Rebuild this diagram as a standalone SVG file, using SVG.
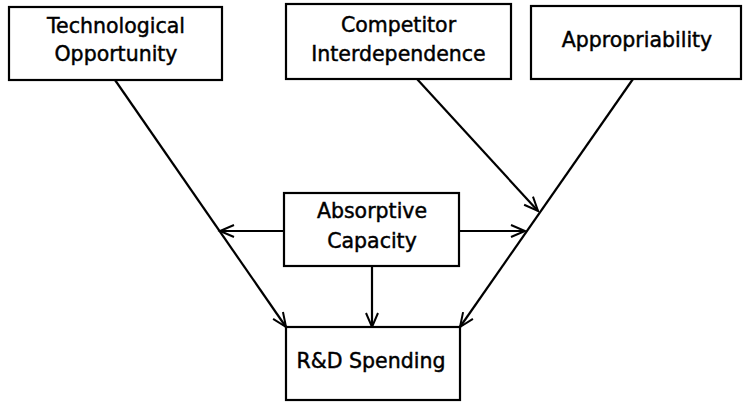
<svg xmlns="http://www.w3.org/2000/svg" width="745" height="402" viewBox="0 0 745 402">
<style>
.box{fill:#fff;stroke:#000;stroke-width:2.2}
.lbl{font-family:"DejaVu Sans","Liberation Sans",sans-serif;font-size:20.5px;fill:#000;stroke:#000;stroke-width:0.45;text-anchor:middle}
.edge{stroke:#000;stroke-width:2.2;fill:none;marker-end:url(#arr)}
</style>
<defs>
<marker id="arr" markerUnits="userSpaceOnUse" markerWidth="18" markerHeight="16" refX="15" refY="7" orient="auto" viewBox="0 0 18 14">
<path d="M1,1 L15,7 L1,13" fill="none" stroke="#000" stroke-width="2"/>
</marker>
</defs>
<rect width="745" height="402" fill="#fff"/>
<g id="connectors">
<line class="edge" x1="115" y1="80" x2="286" y2="327"/>
<line class="edge" x1="633" y1="79" x2="460" y2="327"/>
<line class="edge" x1="417" y1="79" x2="538" y2="211"/>
<line class="edge" x1="284" y1="231" x2="220" y2="231"/>
<line class="edge" x1="459" y1="231" x2="525" y2="231"/>
<line class="edge" x1="372" y1="266" x2="372" y2="327"/>
</g>
<g id="tech">
<rect class="box" x="9" y="7" width="213" height="73"/>
<text class="lbl" x="116" y="33">Technological</text>
<text class="lbl" x="116" y="61">Opportunity</text>
</g>
<g id="competitor">
<rect class="box" x="286" y="4" width="225" height="75"/>
<text class="lbl" x="398.5" y="32">Competitor</text>
<text class="lbl" x="398.5" y="61">Interdependence</text>
</g>
<g id="approp">
<rect class="box" x="531" y="6" width="210" height="73"/>
<text class="lbl" x="637" y="47">Appropriability</text>
</g>
<g id="absorptive">
<rect class="box" x="284" y="193" width="175" height="73"/>
<text class="lbl" x="372" y="218">Absorptive</text>
<text class="lbl" x="372" y="248">Capacity</text>
</g>
<g id="rd">
<rect class="box" x="286" y="327" width="174" height="73"/>
<text class="lbl" x="371" y="368">R&amp;D Spending</text>
</g>
</svg>
